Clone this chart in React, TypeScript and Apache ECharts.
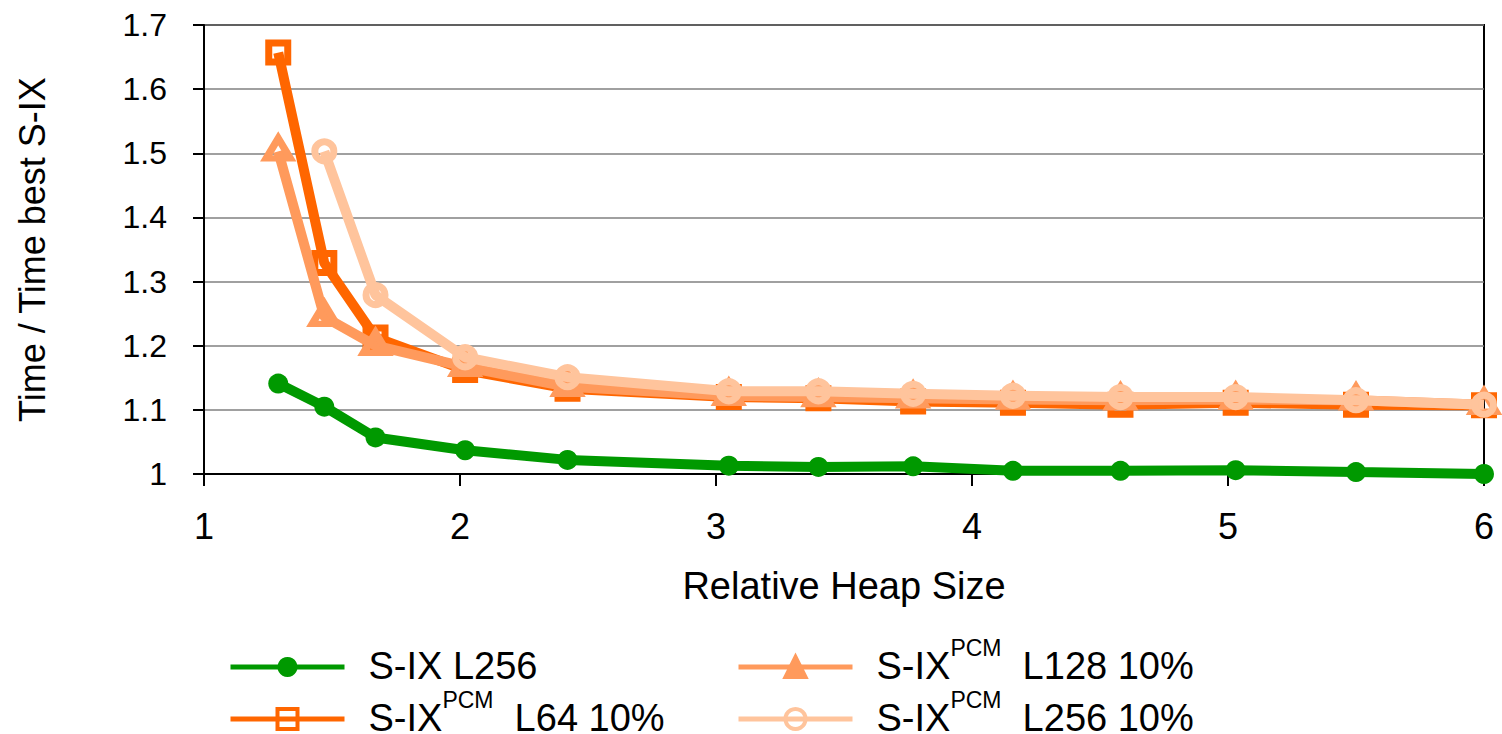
import React, { useEffect, useRef } from "react";
import * as echarts from "echarts";

const heapSizes = [1.29, 1.47, 1.67, 2.02, 2.42, 3.05, 3.4, 3.77, 4.16, 4.58, 5.03, 5.5, 6.0];
const sixL256 = [1.141, 1.105, 1.057, 1.037, 1.022, 1.013, 1.011, 1.012, 1.005, 1.005, 1.006, 1.003, 1.0];
const pcmL64 = [1.657, 1.329, 1.213, 1.162, 1.133, 1.12, 1.118, 1.113, 1.111, 1.108, 1.111, 1.108, 1.107];
const pcmL128 = [1.503, 1.245, 1.2, 1.167, 1.136, 1.122, 1.12, 1.118, 1.116, 1.115, 1.116, 1.115, 1.108];
const pcmL256 = [null, 1.503, 1.279, 1.182, 1.151, 1.129, 1.129, 1.125, 1.122, 1.12, 1.12, 1.115, 1.108];

const yTicks = [1, 1.1, 1.2, 1.3, 1.4, 1.5, 1.6, 1.7];
const xTicks = [1, 2, 3, 4, 5, 6];

const names = {
  s256: "S-IX L256",
  p64: "S-IX PCM L64 10%",
  p128: "S-IX PCM L128 10%",
  p256: "S-IX PCM L256 10%",
};

const colors = {
  green: "#009900",
  p64: "#FF6600",
  p128: "#FF9A5C",
  p256: "#FFC49C",
};

const FONT = "Liberation Sans, Arial, Helvetica, sans-serif";

function pairs(ys: (number | null)[]) {
  const out: [number, number][] = [];
  ys.forEach((y, i) => {
    if (y !== null) out.push([heapSizes[i], y]);
  });
  return out;
}

function legendFmt(name: string) {
  const m = name.match(/^S-IX PCM (.*)$/);
  if (m) return `{m|S-IX}{sup|PCM}{m|  ${m[1]}}`;
  return `{m|${name}}{sup| }`;
}

function makeSeries(name: string, ys: (number | null)[], color: string, symbol: string, size: any, hollow: boolean, z: number, extra: any = {}) {
  return {
    name,
    type: "line",
    data: pairs(ys),
    color,
    symbol,
    symbolSize: size,
    showSymbol: true,
    lineStyle: { color, width: 10, opacity: 1 },
    itemStyle: hollow
      ? { color: "rgba(255,255,255,0)", borderColor: color, borderWidth: 7 }
      : { color, borderWidth: 0 },
    emphasis: { disabled: true },
    z,
    ...extra,
  };
}

export default function App() {
  const ref = useRef<HTMLDivElement>(null);
  useEffect(() => {
    document.body.style.margin = "0";
    if (!ref.current) return;
    const chart = echarts.init(ref.current, undefined, { renderer: "svg" });

    const legendText = {
      fontFamily: FONT,
      color: "#000",
      padding: [0, 0, 0, 19],
      rich: {
        m: { fontSize: 38, lineHeight: 36, fontFamily: FONT, color: "#000", verticalAlign: "bottom" },
        sup: {
          fontSize: 23,
          lineHeight: 23,
          fontFamily: FONT,
          color: "#000",
          verticalAlign: "bottom",
          padding: [0, 0, 26, 0],
        },
      },
    };

    const legendItem = (left: number, top: number, data: any[]) => ({
      orient: "horizontal",
      left,
      top,
      padding: 0,
      itemWidth: 114,
      itemHeight: 25,
      itemGap: 0,
      selectedMode: false,
      formatter: legendFmt,
      textStyle: legendText,
      lineStyle: { width: 5 },
      itemStyle: { borderWidth: 4 },
      data,
    });

    const row1 = 636;
    const row2 = 688;

    const option: any = {
      animation: false,
      backgroundColor: "#fff",
      grid: {
        left: 204,
        right: 18,
        top: 25,
        bottom: 260,
        show: true,
        borderColor: "#000",
        borderWidth: 2,
        backgroundColor: "transparent",
      },
      legend: [
        legendItem(228, row1, [names.s256]),
        legendItem(228, row2, [names.p64]),
        legendItem(736, row1, [{ name: names.p128, itemStyle: { color: colors.p128 } }]),
        legendItem(736, row2, [names.p256]),
      ],
      xAxis: {
        type: "value",
        min: xTicks[0],
        max: xTicks[xTicks.length - 1],
        interval: 1,
        name: "Relative Heap Size",
        nameLocation: "middle",
        nameGap: 93,
        nameTextStyle: { fontSize: 38, fontFamily: FONT, color: "#000" },
        axisLine: { show: true, onZero: false, lineStyle: { color: "#000", width: 2 } },
        axisTick: { show: true, inside: false, length: 12, lineStyle: { color: "#000", width: 2 } },
        axisLabel: { fontSize: 36, fontFamily: FONT, color: "#000", margin: 34 },
        splitLine: { show: false },
      },
      yAxis: {
        type: "value",
        min: yTicks[0],
        max: yTicks[yTicks.length - 1],
        interval: 0.1,
        name: "Time / Time best S-IX",
        nameLocation: "middle",
        nameGap: 154,
        nameTextStyle: { fontSize: 36, fontFamily: FONT, color: "#000" },
        axisLine: { show: true, lineStyle: { color: "#000", width: 2 } },
        axisTick: { show: true, inside: false, length: 11, lineStyle: { color: "#000", width: 2 } },
        axisLabel: {
          fontSize: 32,
          fontFamily: FONT,
          color: "#000",
          margin: 37,
          formatter: (v: number) => String(Math.round(v * 10) / 10),
        },
        splitLine: { show: true, lineStyle: { color: "#808080", width: 1.5 } },
      },
      series: [
        makeSeries(names.s256, sixL256, colors.green, "circle", 20, false, 2),
        makeSeries(names.p64, pcmL64, colors.p64, "rect", 19, true, 3),
        makeSeries(names.p128, pcmL128, colors.p128, "triangle", [24, 20], true, 4, { symbolOffset: [0, -3] }),
        makeSeries(names.p256, pcmL256, colors.p256, "circle", 19, true, 5),
      ],
    };
    chart.setOption(option);
    return () => chart.dispose();
  }, []);
  return <div ref={ref} style={{ width: 1502, height: 734 }} />;
}
